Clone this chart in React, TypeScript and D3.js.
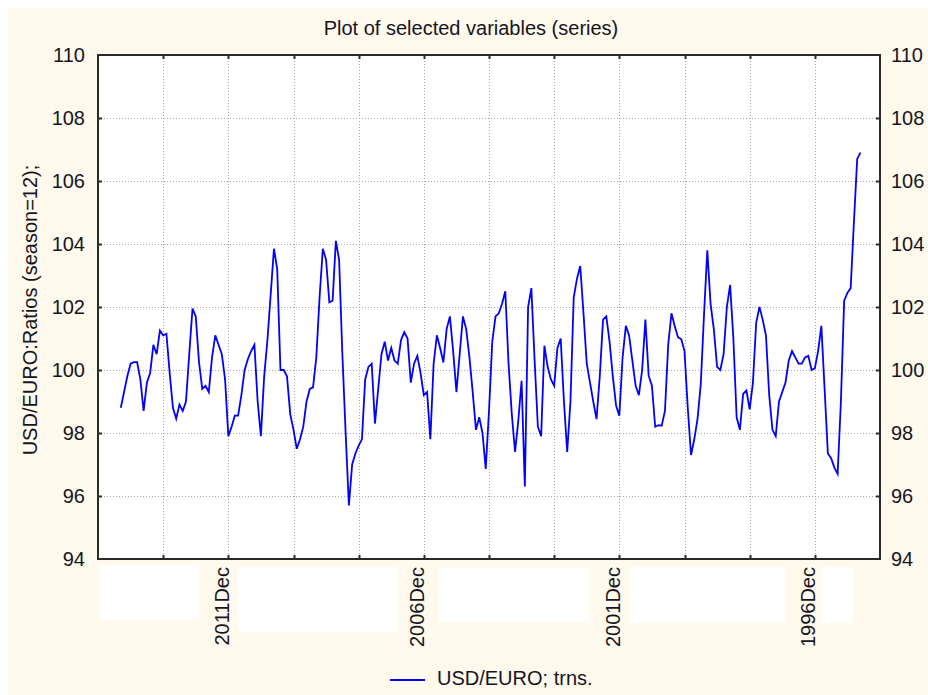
import React, { useEffect, useRef } from 'react';
import * as d3 from 'd3';

const TITLE = 'Plot of selected variables (series)';
const Y_LABEL = 'USD/EURO:Ratios (season=12);';
const SERIES_NAME = 'USD/EURO; trns.';

// case number of the first observation (newest month is on the left)
const FIRST_CASE = 7;

// USD/EURO seasonal ratios, newest first
const usdEuro = [
    98.8, 99.3, 99.8, 100.2, 100.25, 100.25, 99.7, 98.7, 99.6, 99.9, 100.8, 100.5, 101.25, 101.1, 101.15, 99.9,
    98.8, 98.45, 98.9, 98.7, 99.0, 100.5, 101.95, 101.7, 100.25, 99.4, 99.5, 99.3, 100.4, 101.1, 100.8, 100.5,
    99.7, 97.9, 98.2, 98.55, 98.55,
    99.2, 100.0, 100.35, 100.6, 100.8, 99.0, 97.9, 99.8, 100.95, 102.4, 103.85, 103.2, 100.0, 100.0, 99.8, 98.6,
    98.1, 97.5, 97.8, 98.2, 99.0, 99.4, 99.45, 100.4, 102.3, 103.85, 103.5, 102.15, 102.2, 104.1, 103.5, 100.5,
    98.0, 95.7, 97.0, 97.35, 97.6, 97.8,
    99.7, 100.1, 100.2, 98.3, 99.4, 100.5, 100.9, 100.3, 100.7, 100.3, 100.2, 100.95, 101.2, 101.0, 99.6, 100.2,
    100.45, 99.9, 99.2, 99.3, 97.8, 100.2, 101.1, 100.7, 100.24, 101.3, 101.7, 100.6, 99.3, 100.5, 101.7, 101.3,
    100.4, 99.3, 98.1, 98.5, 98.0, 96.86,
    98.7, 100.9, 101.7, 101.8, 102.1, 102.5, 100.2, 98.6, 97.4, 98.4, 99.66, 96.3, 102.0, 102.6, 100.3, 98.2,
    97.9, 100.77, 100.1, 99.7, 99.5, 100.7, 101.0, 99.0, 97.4, 99.0, 102.3, 102.9, 103.3, 101.8, 100.2, 99.6,
    99.0, 98.44, 99.8, 101.6, 101.7, 100.9,
    99.8, 98.87, 98.55, 100.4, 101.4, 101.1, 100.3, 99.5, 99.2, 100.0, 101.6, 99.82, 99.5, 98.2, 98.25, 98.23,
    98.7, 100.8, 101.8, 101.4, 101.04, 100.98, 100.6, 98.8, 97.3, 97.8, 98.45, 99.56, 101.78, 103.8, 102.1, 101.3,
    100.1, 100.0, 100.5, 102.0, 102.7, 101.0, 98.5,
    98.1, 99.24, 99.35, 98.75, 99.6, 101.5, 102.0, 101.6, 101.1, 99.2, 98.1, 97.9, 99.0, 99.3, 99.6, 100.3,
    100.6, 100.4, 100.2, 100.2, 100.4, 100.45, 100.0, 100.05, 100.6, 101.4, 99.4, 97.35, 97.2, 96.9, 96.7, 99.0,
    102.2, 102.45, 102.6, 104.7, 106.7, 106.9
];

const yTicks = [94, 96, 98, 100, 102, 104, 106, 108, 110];
const gridCases = [20, 40, 60, 80, 100, 120, 140, 160, 180, 200, 220];
const dateTickCases = [40, 100, 160, 220];
const dateTickLabels = ['2011Dec', '2006Dec', '2001Dec', '1996Dec'];

const App = () => {
    const svgRef = useRef<SVGSVGElement>(null);

    useEffect(() => {
        const root = d3.select(svgRef.current);
        root.selectAll('*').remove();

        // work in page coordinates (svg sits at the 8px body margin)
        const svg = root.append('g').attr('transform', 'translate(-8,-8)');
        const font = '"Liberation Sans", Arial, sans-serif';
        const ink = '#151520';

        const left = 98, right = 880, top = 55, bottom = 559;

        const x = d3.scaleLinear().domain([0, 240]).range([left, right]);
        const y = d3.scaleLinear().domain([94, 110]).range([bottom, top]);

        svg.append('rect')
            .attr('x', 8).attr('y', 8).attr('width', 920).attr('height', 687)
            .attr('fill', '#fff9ee');

        // white boxes behind the date labels
        const boxes = [[100, 565, 99, 55], [238, 567, 160, 65], [439, 568, 150, 54], [630, 567, 155, 56], [822, 567, 31, 56]];
        svg.append('g')
            .selectAll('rect')
            .data(boxes)
            .join('rect')
            .attr('x', d => d[0]).attr('y', d => d[1])
            .attr('width', d => d[2]).attr('height', d => d[3])
            .attr('fill', '#fff');

        svg.append('rect')
            .attr('x', left).attr('y', top)
            .attr('width', right - left).attr('height', bottom - top)
            .attr('fill', '#fff');

        // dotted grid
        const grid = svg.append('g')
            .attr('stroke', '#a8a8a8')
            .attr('stroke-width', 1)
            .attr('stroke-dasharray', '1,2');

        grid.selectAll('line.v')
            .data(gridCases)
            .join('line')
            .attr('class', 'v')
            .attr('x1', d => Math.round(x(d)) + 0.5).attr('x2', d => Math.round(x(d)) + 0.5)
            .attr('y1', top).attr('y2', bottom);

        grid.selectAll('line.h')
            .data(yTicks.slice(1, -1))
            .join('line')
            .attr('class', 'h')
            .attr('x1', left).attr('x2', right)
            .attr('y1', d => Math.round(y(d)) + 0.5).attr('y2', d => Math.round(y(d)) + 0.5);

        // series line
        const line = d3.line<number>()
            .x((d, i) => x(FIRST_CASE + i))
            .y(d => y(d));

        svg.append('path')
            .datum(usdEuro)
            .attr('fill', 'none')
            .attr('stroke', '#0000ff')
            .attr('stroke-width', 1.8)
            .attr('stroke-linejoin', 'miter')
            .attr('d', line);

        // frame
        svg.append('rect')
            .attr('x', left).attr('y', top)
            .attr('width', right - left).attr('height', bottom - top)
            .attr('fill', 'none')
            .attr('stroke', '#2a2a2a')
            .attr('stroke-width', 2);

        // tick marks pointing inward
        const ticks = svg.append('g').attr('stroke', '#2a2a2a').attr('stroke-width', 2);
        gridCases.forEach(c => {
            const px = Math.round(x(c)) + 0.5;
            ticks.append('line').attr('x1', px).attr('x2', px).attr('y1', top).attr('y2', top + 4);
            ticks.append('line').attr('x1', px).attr('x2', px).attr('y1', bottom).attr('y2', bottom - 4);
        });
        yTicks.slice(1, -1).forEach(v => {
            const py = Math.round(y(v)) + 0.5;
            ticks.append('line').attr('x1', left).attr('x2', left + 4).attr('y1', py).attr('y2', py);
            ticks.append('line').attr('x1', right).attr('x2', right - 4).attr('y1', py).attr('y2', py);
        });

        // y tick labels, both sides
        svg.append('g')
            .selectAll('text')
            .data(yTicks)
            .join('text')
            .attr('x', 85)
            .attr('y', d => y(d))
            .attr('dy', '0.35em')
            .attr('text-anchor', 'end')
            .attr('font-family', font)
            .attr('font-size', 20)
            .attr('fill', ink)
            .text(d => d);

        svg.append('g')
            .selectAll('text')
            .data(yTicks)
            .join('text')
            .attr('x', 891)
            .attr('y', d => y(d))
            .attr('dy', '0.35em')
            .attr('font-family', font)
            .attr('font-size', 20)
            .attr('fill', ink)
            .text(d => d);

        // date labels, rotated
        svg.append('g')
            .selectAll('text')
            .data(dateTickCases)
            .join('text')
            .attr('transform', d => `translate(${x(d) + 0.5},567) rotate(-90)`)
            .attr('text-anchor', 'end')
            .attr('font-family', font)
            .attr('font-size', 20)
            .attr('fill', ink)
            .text((d, i) => dateTickLabels[i]);

        // title
        svg.append('text')
            .attr('x', 471).attr('y', 35)
            .attr('text-anchor', 'middle')
            .attr('font-family', font)
            .attr('font-size', 20)
            .attr('fill', ink)
            .text(TITLE);

        // y axis title
        svg.append('text')
            .attr('transform', 'translate(37,310) rotate(-90)')
            .attr('text-anchor', 'middle')
            .attr('font-family', font)
            .attr('font-size', 20)
            .attr('fill', ink)
            .text(Y_LABEL);

        // legend
        svg.append('line')
            .attr('x1', 390).attr('x2', 425)
            .attr('y1', 680).attr('y2', 680)
            .attr('stroke', '#0000ff')
            .attr('stroke-width', 2);

        svg.append('text')
            .attr('x', 437).attr('y', 685)
            .attr('font-family', font)
            .attr('font-size', 20)
            .attr('fill', ink)
            .text(SERIES_NAME);
    }, []);

    return (
        <svg ref={svgRef} width={920} height={687}
            style={{ position: 'absolute', left: 8, top: 8, display: 'block' }} />
    );
};

export default App;
